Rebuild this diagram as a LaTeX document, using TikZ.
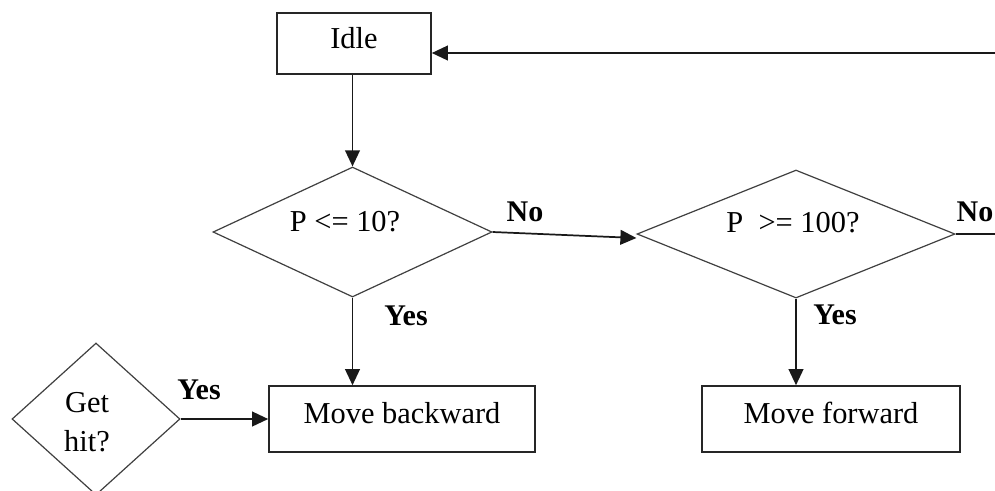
\documentclass[tikz,border=0pt]{standalone}
\usepackage{fontspec}
\setmainfont{Liberation Serif}
\usetikzlibrary{arrows.meta,shapes.geometric,calc}
\begin{document}
\begin{tikzpicture}[x=0.75pt,y=-0.75pt,
  txt/.style={inner sep=0pt,font=\fontsize{22.8}{29.25}\selectfont},
  lbl/.style={inner sep=0pt,font=\fontsize{22.5}{29.25}\selectfont\bfseries},
  box/.style={draw=black!85,line width=1.2pt,inner sep=0pt,font=\fontsize{22.8}{29.25}\selectfont},
  dia/.style={diamond,draw=black!75,line width=0.9pt,inner sep=0pt},
  conn/.style={draw=black!90,line width=1.3pt},
  arr/.style={conn,-{Triangle[length=12pt,width=11pt]}}]
\clip (0,0) rectangle (995,490);
\fill[white] (0,0) rectangle (995,490);
% nodes
\node[box,minimum width=115.5pt,minimum height=45.75pt,text height=15pt,text depth=7pt] (idle) at (354,43.5) {Idle};
\node[dia,minimum width=209.25pt,minimum height=97.5pt] (d1) at (352.5,232) {};
\node[txt] (t1) at (345,222) {P <= 10?};
\node[dia,minimum width=238.5pt,minimum height=96pt] (d2) at (796,234) {};
\node[txt] (t2) at (793,223) {P \ >= 100?};
\node[dia,minimum width=126pt,minimum height=114pt] (gh) at (96,419) {};
\node[txt,align=center] (t3) at (87,422) {Get\\hit?};
\node[box,minimum width=199.5pt,minimum height=49.5pt,text height=15pt,text depth=9pt] (mb) at (402,419) {Move backward};
\node[box,minimum width=193.5pt,minimum height=49.5pt,text height=15pt,text depth=9pt] (mf) at (831,419) {Move forward};
% connectors
\coordinate (fb) at (995,53);
\coordinate (out) at (995,234);
\draw[arr] (fb) -- (fb -| idle.east);
\draw[arr] (idle.south -| d1.north) -- (d1.north);
\draw[arr] (d1.east) -- ($(d2.west)+(0,4)$);
\draw[conn] (d2.east) -- (out);
\draw[arr] (d1.south) -- (d1.south |- mb.north);
\draw[arr] (d2.south) -- (d2.south |- mf.north);
\draw[arr] (gh.east) -- (gh.east -| mb.west);
% labels
\node[lbl] (no1) at (525,212) {No};
\node[lbl] (no2) at (975,212) {No};
\node[lbl] (yes1) at (406,316) {Yes};
\node[lbl] (yes2) at (835,315) {Yes};
\node[lbl] (yes3) at (199,390) {Yes};
\end{tikzpicture}
\end{document}
